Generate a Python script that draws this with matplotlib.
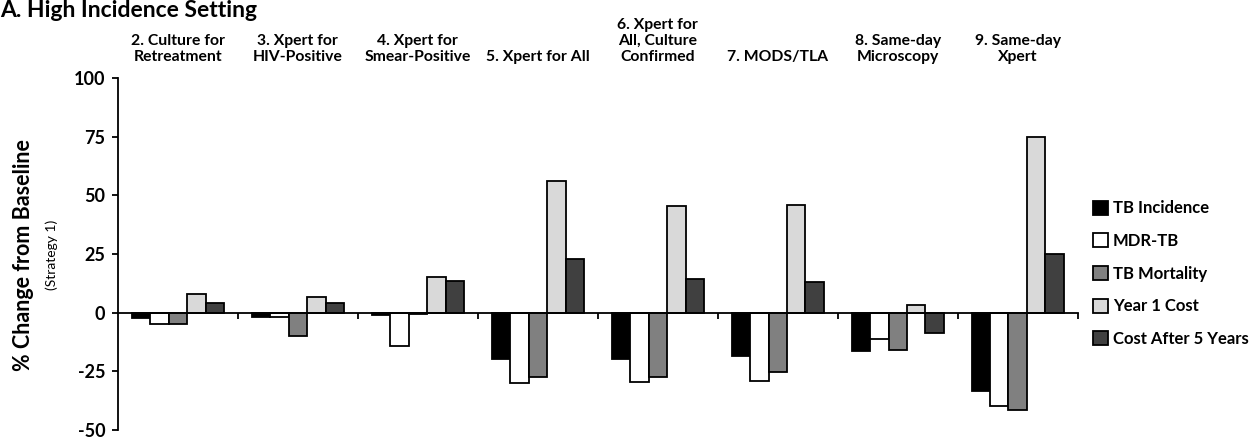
import matplotlib.pyplot as plt
import numpy as np

plt.rcParams['font.family'] = ['Lato', 'DejaVu Sans']

strategies = ['2. Culture for\nRetreatment', '3. Xpert for\nHIV-Positive', '4. Xpert for\nSmear-Positive',
              '5. Xpert for All', '6. Xpert for\nAll, Culture\nConfirmed', '7. MODS/TLA',
              '8. Same-day\nMicroscopy', '9. Same-day\nXpert']
series = ['TB Incidence', 'MDR-TB', 'TB Mortality', 'Year 1 Cost', 'Cost After 5 Years']
tb_incidence = [-2.1, -2.0, -0.8, -19.7, -19.7, -18.3, -16.2, -33.5]
mdr_tb = [-5.0, -1.7, -14.3, -30.0, -29.7, -29.2, -11.2, -39.9]
tb_mortality = [-4.8, -10.0, -0.5, -27.5, -27.5, -25.1, -16.0, -41.5]
year1_cost = [8.0, 6.7, 15.2, 56.0, 45.4, 45.7, 3.1, 74.7]
cost_5yr = [4.0, 4.0, 13.6, 22.7, 14.2, 13.1, -8.7, 25.0]
values = [tb_incidence, mdr_tb, tb_mortality, year1_cost, cost_5yr]
colors = ['#000000', '#ffffff', '#808080', '#d9d9d9', '#404040']

fig = plt.figure(figsize=(12.59, 4.4), dpi=100)
ax = fig.add_axes([0.0937, 0.0227, 0.7623, 0.80])

w = 0.154
x = np.arange(len(strategies))
for k, (name, vals, c) in enumerate(zip(series, values, colors)):
    ax.bar(x + 0.5 + (k - 2) * w, vals, width=w, color=c, edgecolor='black', linewidth=1.3, label=name)

ax.set_xlim(0, len(strategies))
ax.set_ylim(-50, 100)
ax.set_yticks([-50, -25, 0, 25, 50, 75, 100])
ax.set_yticklabels(['-50', '-25', '0', '25', '50', '75', '100'], fontsize=13, fontweight='bold')
ax.spines['top'].set_visible(False)
ax.spines['right'].set_visible(False)
ax.spines['bottom'].set_position(('data', 0))
ax.spines['left'].set_linewidth(1.3)
ax.spines['bottom'].set_linewidth(1.3)
ax.set_xticks(np.arange(1, len(strategies) + 1))
ax.set_xticklabels([])
ax.tick_params(axis='x', direction='out', length=4, width=1.3)
ax.tick_params(axis='y', direction='out', length=4, width=1.3, pad=5)

# strategy names above the plot
for i, s in enumerate(strategies):
    ax.text(i + 0.5, 1.04, s, transform=ax.get_xaxis_transform(), ha='center', va='bottom',
            fontsize=11.3, fontweight='bold', linespacing=1.2)

fig.text(0.0, 0.977, 'A. High Incidence Setting', fontsize=16.5, fontweight='bold', ha='left', va='center')
fig.text(0.019, 0.42, '% Change from Baseline', rotation=90, fontsize=15.5, fontweight='bold', ha='center', va='center')
fig.text(0.041, 0.42, '(Strategy 1)', rotation=90, fontsize=10, ha='center', va='center')

fig.legend(loc='center left', bbox_to_anchor=(0.856, 0.378), frameon=False,
           prop={'weight': 'bold', 'size': 12}, handlelength=0.9, handleheight=0.9, handletextpad=0.3,
           labelspacing=1.0)

plt.savefig('out.png')
plt.close()
